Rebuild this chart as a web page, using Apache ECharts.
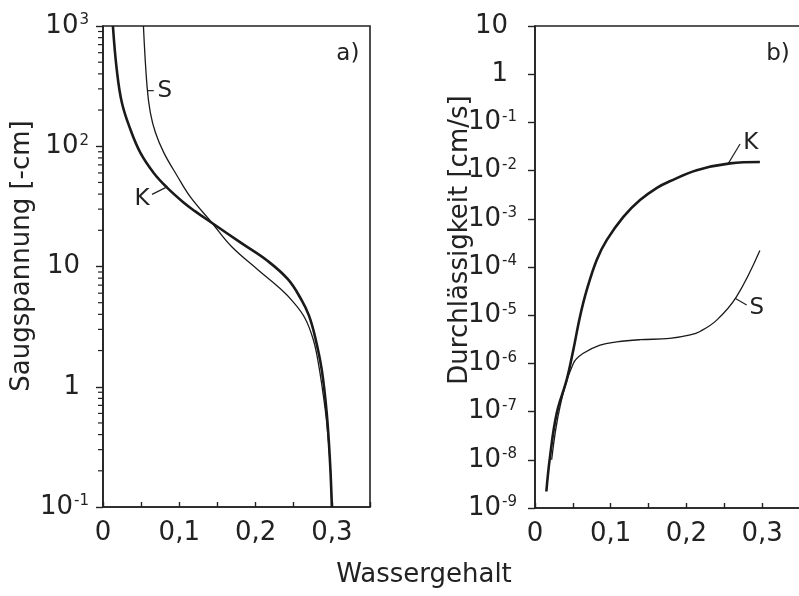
<!DOCTYPE html>
<html>
<head>
<meta charset="utf-8">
</head>
<body style="margin:0;background:#fff">
<div id="main" style="width:799px;height:596px"></div>
<script src="https://cdn.jsdelivr.net/npm/echarts@6/dist/echarts.min.js"></script>
<script>
// a) Saugspannung [-cm] ueber Wassergehalt
var suctionK = [[0.013,1000],[0.018,436],[0.0247,231],[0.0357,139],[0.0489,88.5],[0.0665,60],[0.084,45.3],[0.106,33.9],[0.12,29],[0.143,23],[0.181,15.7],[0.216,11.1],[0.2426,7.8],[0.26,5.3],[0.27,3.9],[0.278,2.6],[0.2867,1.39],[0.2933,0.6],[0.2977,0.23],[0.3,0.1]];
var suctionS = [[0.053,1000],[0.0577,316],[0.062,191],[0.0687,130],[0.0797,88.5],[0.0973,56.6],[0.115,37.5],[0.143,23],[0.1678,14.8],[0.203,9.4],[0.234,6.4],[0.249,5.1],[0.2646,3.73],[0.2757,2.46],[0.2823,1.57],[0.289,0.83],[0.2933,0.5],[0.2977,0.23],[0.3,0.1]];
// b) Durchlaessigkeit [cm/s] ueber Wassergehalt
var condK = [[0.015,2.2e-9],[0.0198,1.15e-8],[0.0287,9.3e-8],[0.0419,4.6e-7],[0.0506,1.9e-6],[0.0594,9.3e-6],[0.0683,3.3e-5],[0.0815,1.4e-4],[0.0947,3.6e-4],[0.1167,1.1e-3],[0.1387,2.45e-3],[0.161,4.4e-3],[0.178,6.0e-3],[0.2136,1.02e-2],[0.2576,1.41e-2],[0.297,1.51e-2]];
var condS = [[0.022,1e-8],[0.033,1.26e-7],[0.0506,1e-6],[0.0638,1.62e-6],[0.0859,2.4e-6],[0.108,2.8e-6],[0.1387,3.1e-6],[0.178,3.3e-6],[0.205,3.9e-6],[0.218,4.6e-6],[0.24,7.9e-6],[0.266,2.4e-5],[0.297,2.2e-4]];

var xTicks = [0, 0.1, 0.2, 0.3];
var xTickLabels = ['0', '0,1', '0,2', '0,3'];
// labels by exponent
var leftExp = [-1, 0, 1, 2, 3];
var leftTickLabels = ['10{s|-1}', '1{p|}', '10{p|}', '10{s|2}', '10{s|3}'];
var rightExp = [-9, -8, -7, -6, -5, -4, -3, -2, -1, 0, 1];
var rightTickLabels = ['10{s|-9}', '10{s|-8}', '10{s|-7}', '10{s|-6}', '10{s|-5}', '10{s|-4}', '10{s|-3}', '10{s|-2}', '10{s|-1}', '1{p|}', '10{p|}'];
var minorTicks = [0.2,0.3,0.4,0.5,0.6,0.7,0.8,0.9,2,3,4,5,6,7,8,9,20,30,40,50,60,70,80,90,200,300,400,500,600,700,800,900];

// curve labels in data coordinates
var notes = [
    {grid: 0, text: 'S', at: [0.081, 287], line: [[0.0585, 290], [0.0665, 290]]},
    {grid: 0, text: 'K', at: [0.0511, 36.1], line: [[0.0643, 39.8], [0.082, 45.3]]},
    {grid: 0, text: 'a)', at: [0.321, 584]},
    {grid: 1, text: 'K', at: [0.285, 0.0368], line: [[0.2554, 0.01416], [0.2708, 0.0356]]},
    {grid: 1, text: 'S', at: [0.2929, 1.39e-5], line: [[0.2642, 2.24e-5], [0.2796, 1.63e-5]]},
    {grid: 1, text: 'b)', at: [0.321, 2.62]}
];

var font = 'DejaVu Sans';
var ink = '#222';

function xFmt(v) {
    for (var i = 0; i < xTicks.length; i++) {
        if (Math.abs(v - xTicks[i]) < 1e-6) return xTickLabels[i];
    }
    return '';
}
function expFmt(exps, labels) {
    return function (v) {
        var e = Math.round(Math.log(v) / Math.LN10);
        var i = exps.indexOf(e);
        return i < 0 ? '' : labels[i];
    };
}
var rich = {
    s: {fontSize: 15, fontFamily: font, color: ink, verticalAlign: 'top', lineHeight: 14, padding: [0, 0, 0, 1]},
    p: {width: 9}
};

function xAxis(g) {
    return {
        gridIndex: g, type: 'value', min: 0, max: 0.35, interval: 0.05,
        axisLine: {show: true, lineStyle: {color: ink, width: 1.6}},
        axisTick: {show: true, inside: true, length: 5, lineStyle: {color: ink, width: 1.4}},
        axisLabel: {fontSize: 26, fontFamily: font, color: ink, margin: 13, formatter: xFmt},
        splitLine: {show: false}
    };
}
function yAxis(g, min, max, split, fmt, margin) {
    return {
        gridIndex: g, type: 'log', logBase: 10, min: min, max: max, splitNumber: split,
        axisLine: {show: true, lineStyle: {color: ink, width: 1.6}},
        axisTick: {show: true, inside: false, length: 7, lineStyle: {color: ink, width: 1.4}},
        axisLabel: {fontSize: 26, fontFamily: font, color: ink, margin: margin, formatter: fmt, rich: rich},
        splitLine: {show: false}
    };
}
function curve(data, g, w) {
    return {
        type: 'line', data: data, xAxisIndex: g, yAxisIndex: g,
        smooth: 0.4, symbol: 'none', silent: true,
        lineStyle: {color: '#1a1a1a', width: w}
    };
}

var chart = echarts.init(document.getElementById('main'));
chart.setOption({
    backgroundColor: '#fff',
    animation: false,
    grid: [
        {left: 103, top: 26, width: 267, height: 481, show: true, borderColor: ink, borderWidth: 1.6, outerBoundsMode: 'none'},
        {left: 535, top: 26, width: 265, height: 482, show: true, borderColor: ink, borderWidth: 1.6, outerBoundsMode: 'none'}
    ],
    xAxis: [xAxis(0), xAxis(1)],
    yAxis: [
        yAxis(0, 0.1, 1000, 4, expFmt(leftExp, leftTickLabels), 14),
        yAxis(1, 1e-9, 10, 10, expFmt(rightExp, rightTickLabels), 18)
    ],
    series: [
        curve(suctionK, 0, 2.6),
        curve(suctionS, 0, 1.3),
        curve(condK, 1, 2.6),
        curve(condS, 1, 1.3),
        {
            type: 'custom', xAxisIndex: 0, yAxisIndex: 0, silent: true, clip: false,
            data: minorTicks.map(function (v) { return [0, v]; }),
            renderItem: function (params, api) {
                var p = api.coord([api.value(0), api.value(1)]);
                return {type: 'line', shape: {x1: p[0] - 5, y1: p[1], x2: p[0], y2: p[1]},
                    style: {stroke: ink, lineWidth: 1.2}};
            }
        }
    ]
});

var graphics = [
    {type: 'text', x: 22, y: 256, rotation: Math.PI / 2,
        style: {text: 'Saugspannung [-cm]', font: '26px ' + font, fill: ink, textAlign: 'center', textVerticalAlign: 'middle'}},
    {type: 'text', x: 460, y: 240, rotation: Math.PI / 2,
        style: {text: 'Durchlässigkeit [cm/s]', font: '26px ' + font, fill: ink, textAlign: 'center', textVerticalAlign: 'middle'}},
    {type: 'text', x: 424, y: 575,
        style: {text: 'Wassergehalt', font: '26px ' + font, fill: ink, textAlign: 'center', textVerticalAlign: 'middle'}}
];
notes.forEach(function (n) {
    var p = chart.convertToPixel({gridIndex: n.grid}, n.at);
    graphics.push({type: 'text', x: p[0], y: p[1],
        style: {text: n.text, font: '23px ' + font, fill: ink, textAlign: 'center', textVerticalAlign: 'middle'}});
    if (n.line) {
        var a = chart.convertToPixel({gridIndex: n.grid}, n.line[0]);
        var b = chart.convertToPixel({gridIndex: n.grid}, n.line[1]);
        graphics.push({type: 'line', shape: {x1: a[0], y1: a[1], x2: b[0], y2: b[1]},
            style: {stroke: ink, lineWidth: 1.2}});
    }
});
chart.setOption({graphic: graphics});
</script>
</body>
</html>
